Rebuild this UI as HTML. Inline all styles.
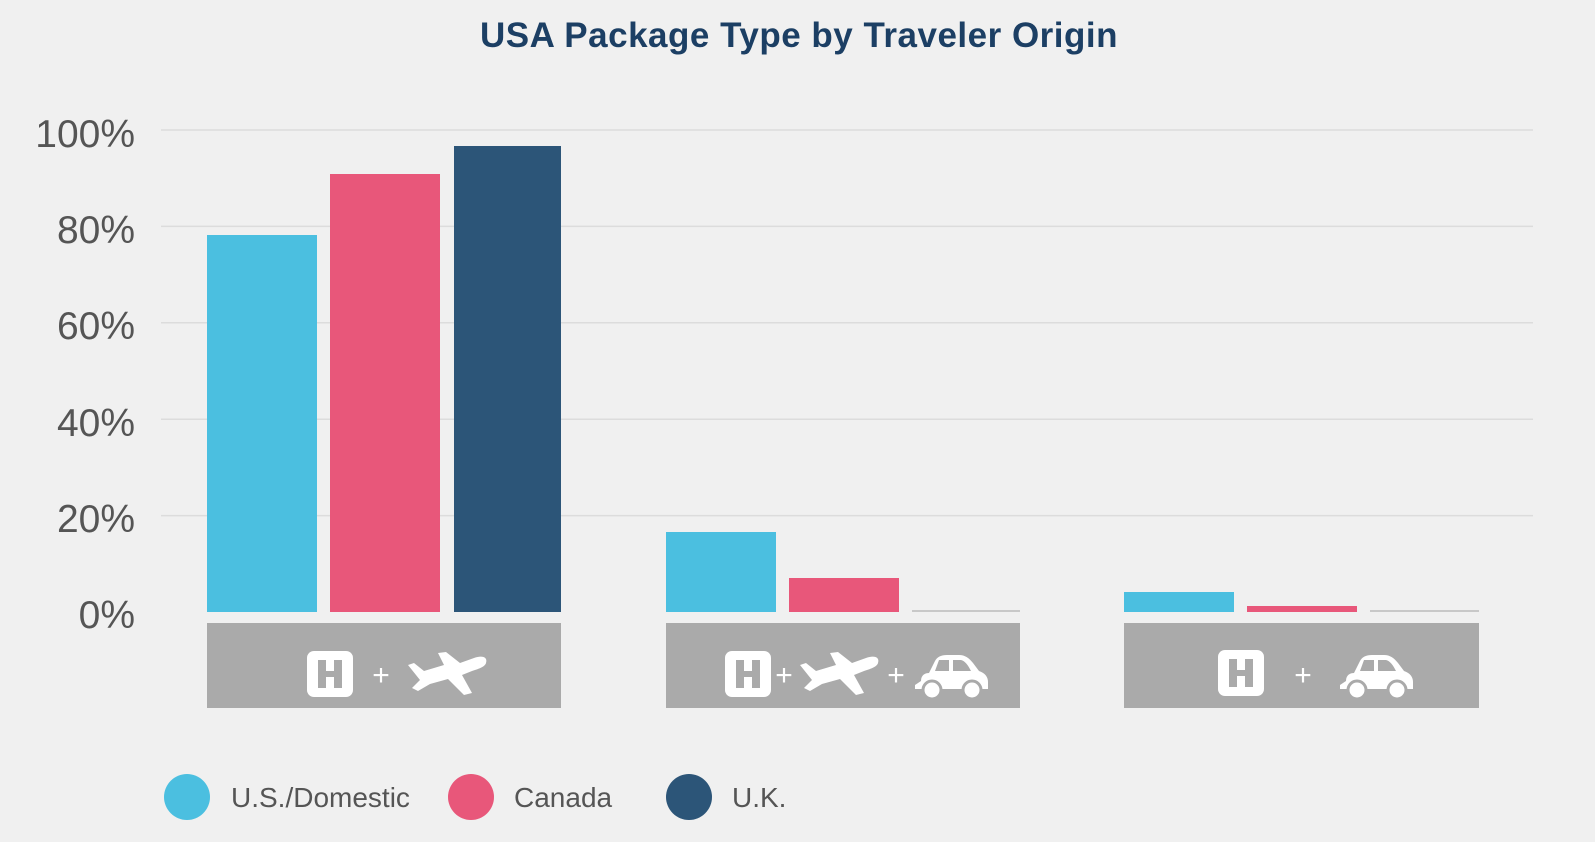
<!DOCTYPE html>
<html><head><meta charset="utf-8"><style>
html,body{margin:0;padding:0;background:#f0f0f0;}
svg{display:block;}
</style></head><body>
<svg width="1595" height="842" viewBox="0 0 1595 842" xmlns="http://www.w3.org/2000/svg">
<rect width="1595" height="842" fill="#f0f0f0"/>
<defs>
<g id="H"><rect x="0" y="0" width="46" height="46" rx="7" fill="#fff"/><path d="M11 9h8v11h8v-11h8v28h-8v-11h-8v11h-8z" fill="#aaa"/></g>
<g id="P"><path d="M0 14 L6 12 L16 20 L36 14 L30 2 L38 1 L52 12 L66 7 C74 4 80 6 78 12 C77 16 70 18 64 20 L54 24 L64 42 L56 44 L40 28 L22 33 L10 40 L4 37 L12 29 Z" fill="#fff"/></g>
<g id="C"><path d="M6 26 C6 20 10 18 14 18 L20 6 C22 2 26 0 32 0 L44 0 C50 0 54 3 58 8 L64 16 C70 18 73 22 73 27 L73 34 L0 34 L0 30 Z" fill="#fff"/><path d="M24 5 L34 5 L34 16 L20 16 Z M38 5 L46 5 C50 6 53 10 56 16 L38 16 Z" fill="#aaa"/><circle cx="17" cy="35" r="9" fill="#fff" stroke="#aaa" stroke-width="3"/><circle cx="57" cy="35" r="9" fill="#fff" stroke="#aaa" stroke-width="3"/></g>
</defs>
<text x="799" y="47" text-anchor="middle" font-family="Liberation Sans, sans-serif" font-weight="bold" font-size="35" letter-spacing="0.5" fill="#1c3f64">USA Package Type by Traveler Origin</text>
<g stroke="#dcdcdc" stroke-width="1.5">
<line x1="161" x2="1533" y1="130" y2="130"/><line x1="161" x2="1533" y1="226.4" y2="226.4"/><line x1="161" x2="1533" y1="322.8" y2="322.8"/><line x1="161" x2="1533" y1="419.2" y2="419.2"/><line x1="161" x2="1533" y1="515.6" y2="515.6"/>
</g>
<g font-family="Liberation Sans, sans-serif" font-size="39" fill="#555" text-anchor="end">
<text x="135" y="147">100%</text><text x="135" y="243">80%</text><text x="135" y="339">60%</text><text x="135" y="436">40%</text><text x="135" y="532">20%</text><text x="135" y="628">0%</text>
</g>
<rect x="207" y="235" width="110" height="377" fill="#4bbfe0"/>
<rect x="330" y="174" width="110" height="438" fill="#e8577a"/>
<rect x="454" y="146" width="107" height="466" fill="#2c5578"/>
<rect x="666" y="532" width="110" height="80" fill="#4bbfe0"/>
<rect x="789" y="578" width="110" height="34" fill="#e8577a"/>
<rect x="912" y="610" width="108" height="2" fill="#c8c8c8"/>
<rect x="1124" y="592" width="110" height="20" fill="#4bbfe0"/>
<rect x="1247" y="606" width="110" height="6" fill="#e8577a"/>
<rect x="1370" y="610" width="109" height="2" fill="#c8c8c8"/>
<rect x="207" y="623" width="354" height="85" fill="#aaa"/>
<rect x="666" y="623" width="354" height="85" fill="#aaa"/>
<rect x="1124" y="623" width="355" height="85" fill="#aaa"/>
<g font-family="Liberation Sans, sans-serif" font-size="30" fill="#fff" text-anchor="middle">
<use href="#H" x="307" y="651"/><text x="381" y="685">+</text><use href="#P" x="408" y="651"/>
<use href="#H" x="725" y="651"/><text x="784" y="685">+</text><use href="#P" x="800" y="651"/><text x="896" y="685">+</text><use href="#C" x="915" y="655"/>
<use href="#H" x="1218" y="650"/><text x="1303" y="685">+</text><use href="#C" x="1340" y="655"/>
</g>
<circle cx="187" cy="797" r="23" fill="#4bbfe0"/>
<circle cx="471" cy="797" r="23" fill="#e8577a"/>
<circle cx="689" cy="797" r="23" fill="#2c5578"/>
<g font-family="Liberation Sans, sans-serif" font-size="28" fill="#555">
<text x="231" y="807">U.S./Domestic</text><text x="514" y="807">Canada</text><text x="732" y="807">U.K.</text>
</g>
</svg>
</body></html>
